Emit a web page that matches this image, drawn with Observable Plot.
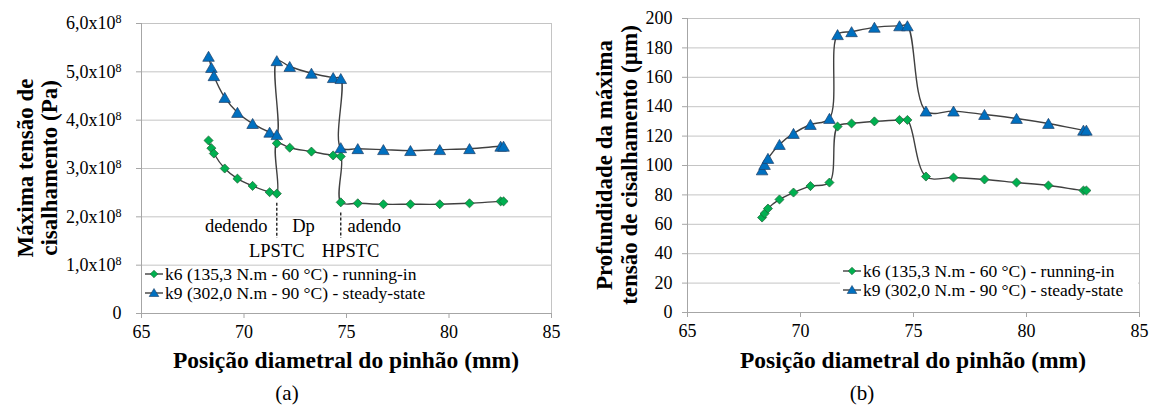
<!DOCTYPE html>
<html><head><meta charset="utf-8">
<script src="https://cdn.jsdelivr.net/npm/d3@7"></script>
<script src="https://cdn.jsdelivr.net/npm/@observablehq/plot@0.6"></script>
<style>
body{margin:0;background:#fff;}
#wrap{position:relative;width:1150px;height:405px;overflow:hidden;font-family:"Liberation Serif","Times New Roman",serif;}
#wrap svg{position:absolute;top:0;}
#wrap svg, #wrap svg g, #wrap svg text{font-family:"Liberation Serif","Times New Roman",serif !important;}
</style></head><body><div id="wrap"></div>
<script>
// ---------- data ----------
const seriesNames = ["k6 (135,3 N.m - 60 °C) - running-in", "k9 (302,0 N.m - 90 °C) - steady-state"];

// panel (a): maximum shear stress (Pa)
const xA  = [68.27, 68.41, 68.53, 69.06, 69.68, 70.42, 71.25, 71.6, 71.6, 72.23, 73.29, 74.35, 74.72, 74.72, 75.55, 76.8, 78.12, 79.55, 81.0, 82.52, 82.66];
const k6A = [3.58e8, 3.42e8, 3.31e8, 3.00e8, 2.79e8, 2.64e8, 2.51e8, 2.48e8, 3.52e8, 3.43e8, 3.35e8, 3.27e8, 3.25e8, 2.30e8, 2.28e8, 2.26e8, 2.26e8, 2.26e8, 2.28e8, 2.32e8, 2.32e8];
const k9A = [5.32e8, 5.09e8, 4.92e8, 4.47e8, 4.16e8, 3.93e8, 3.75e8, 3.70e8, 5.23e8, 5.11e8, 4.97e8, 4.88e8, 4.86e8, 3.43e8, 3.41e8, 3.39e8, 3.37e8, 3.39e8, 3.41e8, 3.46e8, 3.46e8];

// panel (b): depth of maximum shear stress (µm)
const xB  = [68.3, 68.41, 68.56, 69.07, 69.69, 70.44, 71.28, 71.64, 72.26, 73.27, 74.38, 74.73, 75.55, 76.77, 78.14, 79.56, 80.97, 82.52, 82.65];
const k6B = [64.6, 67.3, 70.7, 76.9, 81.6, 86.0, 88.4, 126.5, 128.6, 130.0, 131.0, 131.0, 92.5, 91.8, 90.5, 88.4, 86.4, 83.0, 83.0];
const k9B = [97.0, 100.7, 104.8, 114.3, 121.8, 127.9, 132.0, 189.0, 191.0, 194.0, 195.0, 195.0, 137.0, 137.0, 134.7, 132.0, 128.6, 124.0, 124.0];

// axes
const xTicks  = [65, 70, 75, 80, 85];
const yTicksA = [0, 1e8, 2e8, 3e8, 4e8, 5e8, 6e8];
const yTicksB = [0, 20, 40, 60, 80, 100, 120, 140, 160, 180, 200];
const xTitle  = "Posição diametral do pinhão (mm)";
const yTitleA = ["Máxima tensão de", "cisalhamento (Pa)"];
const yTitleB = ["Profundidade da máxima", "tensão de cisalhamento (µm)"];
const captions = ["(a)", "(b)"];

// annotations in (a)
const regionNames = ["dedendo", "Dp", "adendo"];
const regionX     = [71.15, 72.9, 75.05];
const regionY     = [1.80e8, 1.80e8, 1.80e8];
const contactNames = ["LPSTC", "HPSTC"];
const contactX     = [71.6, 74.72];
const contactLabelX = [71.6, 75.2];
const contactLabelY = [1.30e8, 1.30e8];
const dashTop    = [2.28e8, 2.08e8];
const dashBottom = [1.55e8, 1.55e8];

// ---------- styles ----------
const FONT = "'Liberation Serif', 'Times New Roman', serif";
const GRID = "#C4C4C4";
const AXIS = "#A6A6A6";
const LINE = "#404040";
const GREEN = "#00B050", GREEN_EDGE = "#1d5f33";
const BLUE = "#0070C0", BLUE_EDGE = "#1f3f66";

const rowsA = xA.map((x, i) => ({x, k6: k6A[i], k9: k9A[i]}));
const rowsB = xB.map((x, i) => ({x, k6: k6B[i], k9: k9B[i]}));
const regions = regionNames.map((t, i) => ({t, x: regionX[i], y: regionY[i]}));
const contacts = contactNames.map((t, i) => ({t, x: contactX[i], lx: contactLabelX[i], ly: contactLabelY[i], y1: dashTop[i], y2: dashBottom[i]}));

function seriesMarks(rows) {
  return [
    Plot.line(rows, {x: "x", y: "k6", curve: "catmull-rom", stroke: LINE, strokeWidth: 1.4}),
    Plot.line(rows, {x: "x", y: "k9", curve: "catmull-rom", stroke: LINE, strokeWidth: 1.4}),
    Plot.dot(rows, {x: "x", y: "k6", symbol: "diamond2", r: 4.1, fill: GREEN, stroke: GREEN_EDGE, strokeWidth: 0.7}),
    Plot.dot(rows, {x: "x", y: "k9", symbol: "triangle", r: 4.3, dy: 1.6, fill: BLUE, stroke: BLUE_EDGE, strokeWidth: 0.7})
  ];
}

function commonAxes(yTicks, yFmt, yPad) {
  return [
    Plot.gridY(yTicks, {stroke: GRID, strokeOpacity: 1, strokeWidth: 1}),
    Plot.ruleX([85], {stroke: GRID, strokeWidth: 1}),
    Plot.ruleX([65], {stroke: AXIS, strokeWidth: 1}),
    Plot.ruleY([0], {stroke: AXIS, strokeWidth: 1}),
    Plot.axisY(yTicks, {tickSize: 5, tickPadding: yPad, stroke: AXIS, fill: "#000", tickFormat: yFmt, label: null, fontSize: 18, fontFamily: FONT}),
    Plot.axisX(xTicks, {tickSize: 5, tickPadding: 7, stroke: AXIS, fill: "#000", label: null, fontSize: 18, fontFamily: FONT})
  ];
}

// ---------- panel (a) ----------
const plotA = Plot.plot({
  width: 575, height: 405,
  marginLeft: 141, marginRight: 24, marginTop: 23, marginBottom: 92,
  style: {fontFamily: FONT, fontSize: "18px", background: "transparent", overflow: "visible"},
  x: {domain: [65, 85]},
  y: {domain: [0, 6e8]},
  marks: [
    ...commonAxes(yTicksA, d => d === 0 ? "0" : (d / 1e8).toFixed(1).replace(".", ",") + "x10", 15),
    Plot.ruleX(contacts, {x: "x", y1: "y1", y2: "y2", stroke: "#111", strokeWidth: 1.3, strokeDasharray: "3,2"}),
    Plot.text(regions.filter(d => d.t === "dedendo"), {x: "x", y: "y", text: "t", fontSize: 18.5, fill: "#000", textAnchor: "end", fontFamily: FONT}),
    Plot.text(regions.filter(d => d.t === "Dp"), {x: "x", y: "y", text: "t", fontSize: 18.5, fill: "#000", textAnchor: "middle", fontFamily: FONT}),
    Plot.text(regions.filter(d => d.t === "adendo"), {x: "x", y: "y", text: "t", fontSize: 18.5, fill: "#000", textAnchor: "start", fontFamily: FONT}),
    Plot.text(contacts, {x: "lx", y: "ly", text: "t", fontSize: 18.5, fill: "#000", textAnchor: "middle", fontFamily: FONT}),
    ...seriesMarks(rowsA)
  ]
});

// ---------- panel (b) ----------
const plotB = Plot.plot({
  width: 575, height: 405,
  marginLeft: 112, marginRight: 11, marginTop: 18, marginBottom: 93,
  style: {fontFamily: FONT, fontSize: "18px", background: "transparent", overflow: "visible"},
  x: {domain: [65, 85]},
  y: {domain: [0, 200]},
  marks: [
    ...commonAxes(yTicksB, d => String(d), 10),
    ...seriesMarks(rowsB)
  ]
});

const wrap = document.getElementById("wrap");
plotA.style.left = "0px";
plotB.style.left = "575px";
wrap.appendChild(plotA);
wrap.appendChild(plotB);

// superscript exponent on the (a) y tick labels
d3.select(plotA).selectAll("g[aria-label='y-axis tick label'] text").each(function() {
  const t = d3.select(this);
  if (t.text().endsWith("x10")) {
    t.append("tspan").attr("dy", "-0.5em").attr("font-size", "12px").text("8");
  }
});

function decorate(svg, o) {
  const s = d3.select(svg);
  const g = s.append("g").attr("font-family", FONT).attr("fill", "#000").attr("text-anchor", "start");
  o.yTitle.forEach((line, i) => {
    g.append("text").attr("transform", `translate(${o.yTitleX[i]},${o.yTitleY}) rotate(-90)`)
      .attr("text-anchor", "middle").attr("dy", "0.35em")
      .attr("font-size", 23).attr("font-weight", "bold").text(line);
  });
  g.append("text").attr("x", o.xTitleX).attr("y", 360).attr("dy", "0.35em")
    .attr("text-anchor", "middle").attr("font-size", 23.5).attr("font-weight", "bold").text(xTitle);
  g.append("text").attr("x", 287).attr("y", 393).attr("dy", "0.35em")
    .attr("text-anchor", "middle").attr("font-size", 21).text(o.caption);
  const lg = g.append("g");
  if (o.legendBox) {
    lg.append("rect").attr("x", o.legendBox[0]).attr("y", o.legendBox[1])
      .attr("width", o.legendBox[2]).attr("height", o.legendBox[3]).attr("fill", "#fff");
  }
  seriesNames.forEach((name, i) => {
    const y = o.legendY[i];
    lg.append("line").attr("x1", o.legendX).attr("x2", o.legendX + 18).attr("y1", y).attr("y2", y)
      .attr("stroke", LINE).attr("stroke-width", 1.4);
    const cx = o.legendX + 9;
    if (i === 0) {
      lg.append("path").attr("d", `M${cx},${y-3.8}L${cx+3.8},${y}L${cx},${y+3.8}L${cx-3.8},${y}Z`)
        .attr("fill", GREEN).attr("stroke", GREEN_EDGE).attr("stroke-width", 0.6);
    } else {
      lg.append("path").attr("d", `M${cx},${y-4.5}L${cx+4.8},${y+3.5}L${cx-4.8},${y+3.5}Z`)
        .attr("fill", BLUE).attr("stroke", BLUE_EDGE).attr("stroke-width", 0.6);
    }
    lg.append("text").attr("x", o.legendX + 20).attr("y", y).attr("dy", "0.33em")
      .attr("text-anchor", "start").attr("font-size", 17.5).text(name);
  });
}

decorate(plotA, {yTitle: yTitleA, yTitleX: [25, 49], yTitleY: 168, xTitleX: 346, caption: captions[0],
  legendX: 145, legendY: [274, 293]});
decorate(plotB, {yTitle: yTitleB, yTitleX: [29, 54], yTitleY: 165, xTitleX: 338, caption: captions[1],
  legendX: 268, legendY: [271, 290], legendBox: [265, 261, 298, 39]});
</script></body></html>
